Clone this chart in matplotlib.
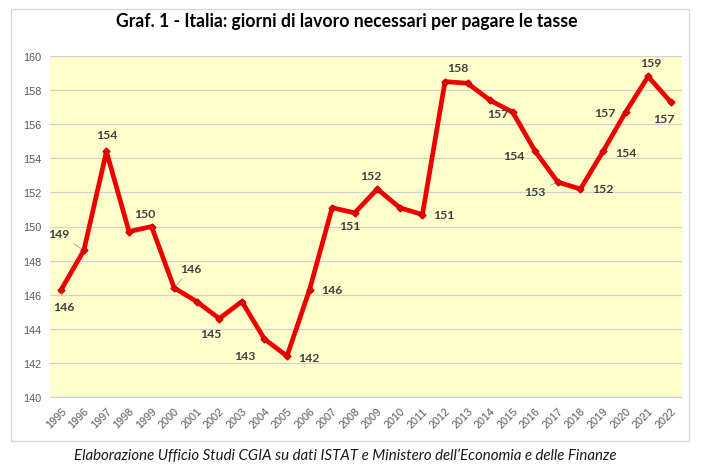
import matplotlib
matplotlib.use('Agg')
from matplotlib import pyplot as plt
from matplotlib.patches import Rectangle

years = [str(y) for y in range(1995, 2023)]
giorni = [146.3, 148.6, 154.4, 149.7, 150.0, 146.4, 145.6, 144.6, 145.6, 143.4,
          142.4, 146.3, 151.1, 150.8, 152.2, 151.1, 150.7, 158.5, 158.4, 157.4,
          156.7, 154.4, 152.6, 152.2, 154.4, 156.7, 158.8, 157.3]

# which points carry a label, with offset (points) and leader line flag
label_pos = {
    0: (2, -12, True), 1: (-18, 12, True), 2: (0, 12, False), 4: (-5, 9, False),
    5: (12, 14, True), 7: (-6, -11, False), 9: (-14, -11.5, False),
    10: (16, -1, False), 11: (16, 0, False), 13: (-3.6, -9, False),
    14: (-4.5, 10, False), 16: (15.5, 0, False), 17: (9, 10, False),
    20: (-10.4, -0.7, False), 21: (-15.6, -3, False), 22: (-16.8, -6.7, True),
    23: (15.8, 0, False), 24: (16.6, -0.7, False), 25: (-15, 0, False),
    26: (2, 10.4, False), 27: (-4.8, -12.2, False),
}

fig = plt.figure(figsize=(7.03, 4.77), dpi=100)
fig.patches.append(Rectangle((11/703, 1-442/477), 678/703, 432/477,
                             transform=fig.transFigure, fill=False,
                             edgecolor='#D9D9D9', linewidth=1))

ax = fig.add_axes([50/703, 1-398/477, 632/703, 341/477])
ax.set_facecolor('#FFFFCC')
x = list(range(len(years)))
ax.plot(x, giorni, color='#EE0000', linewidth=3.4, marker='D', markersize=3.5,
        markerfacecolor='#EE0000', markeredgecolor='#CC0000', solid_joinstyle='round')

ax.set_xlim(-0.5, len(years) - 0.5)
ax.set_ylim(140, 160)
ax.set_yticks(range(140, 161, 2))
ax.set_xticks(x)
ax.set_xticklabels(years, rotation=45, ha='right', rotation_mode='anchor')
ax.grid(axis='y', color='#D0D0D0', linewidth=0.9)
ax.set_axisbelow(True)
for s in ['top', 'right', 'left']:
    ax.spines[s].set_visible(False)
ax.spines['bottom'].set_color('#D0D0D0')
ax.tick_params(length=0, labelsize=7.8, colors='#595959', pad=6)
for t in ax.get_xticklabels() + ax.get_yticklabels():
    t.set_fontfamily('Liberation Sans')

for i, (dx, dy, leader) in label_pos.items():
    ax.annotate('%.0f' % giorni[i], (x[i], giorni[i]), xytext=(dx, dy),
                textcoords='offset points', ha='center', va='center',
                fontsize=8.8, fontweight='bold', color='#404040', family='Lato',
                arrowprops=dict(arrowstyle='-', color='#A0A0A0', lw=0.6,
                                shrinkA=2, shrinkB=2) if leader else None)

fig.text(347/703, 1-22/477, 'Graf. 1 - Italia: giorni di lavoro necessari per pagare le tasse',
         ha='center', va='center', fontsize=12.7, fontweight='bold', family='Lato', color='#000000')
fig.text(345/703, 1-456/477,
         'Elaborazione Ufficio Studi CGIA su dati ISTAT e Ministero dell\u2019Economia e delle Finanze',
         ha='center', va='center', fontsize=10.8, style='italic', family='Lato', color='#1a1a1a')

fig.savefig('out.png', dpi=100)
